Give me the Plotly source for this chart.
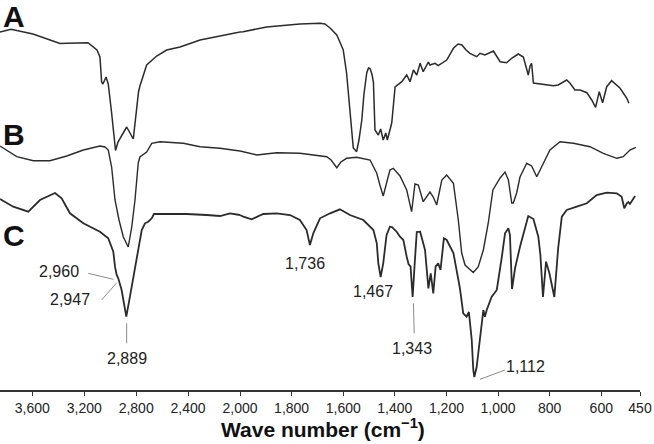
import plotly.graph_objects as go

# ---------------- data (wavenumber in cm-1, transmittance in arbitrary units, offset per spectrum) -------------
wn_A = [3849, 3764, 3595, 3387, 3333, 3171, 3102, 3079, 3066, 3056, 3032, 3015, 2989, 2959, 2940, 2873,
        2822, 2796, 2782, 2771, 2719, 2642, 2565, 2462, 2308, 2154, 2054, 2000,
        1988, 1897, 1858, 1768, 1690, 1671, 1651, 1625, 1613, 1600, 1587, 1574, 1561, 1548, 1539, 1528,
        1520, 1509, 1502, 1496, 1489, 1483, 1477, 1464, 1455, 1445, 1435, 1429, 1412, 1399, 1373, 1354,
        1341, 1328, 1315, 1302, 1290, 1270, 1264, 1244, 1232, 1199, 1173, 1155, 1140, 1124, 1109, 1083,
        1070, 1051, 1018, 992, 967, 946, 922, 902, 889, 883, 876, 870, 863, 837, 786, 767, 747, 734, 721,
        702, 682, 656, 637, 622, 608, 595, 579, 560, 527, 501, 493]
t_A = [358, 360.7, 356, 346.5, 346.7, 347.3, 340, 333, 308, 306, 313, 306, 277, 239.5, 248, 263,
       251, 283, 298, 304, 325, 334, 340, 343, 350, 354, 357, 358,
       358.3, 363, 364, 366, 366.7, 366, 362, 355, 348, 340, 317, 277, 242, 238.3, 250, 270,
       295, 317, 322, 321.5, 316, 308, 260, 255, 261, 250, 257, 250, 267, 303, 308.3, 315,
       308.3, 320, 315, 326.7, 318.3, 328, 325, 326.7, 324.3, 330, 341.7, 346, 345, 340, 336.7, 333.3,
       336.7, 335, 339, 328.3, 327.3, 332, 336, 333, 320, 315, 324, 326.7, 307, 306, 304.3, 305, 308.3, 310, 306.7,
       300, 300, 297.3, 290, 282.7, 298.3, 287.3, 303.3, 309.3, 301.7, 291.7, 286.7]

wn_B = [3849, 3720, 3592, 3464, 3335, 3207, 3079, 3040, 3015, 2989, 2963, 2932, 2899, 2861, 2834, 2809,
        2784, 2771, 2719, 2680, 2616, 2437, 2308, 2154, 2000,
        1935, 1858, 1768, 1664, 1647, 1625, 1609, 1587, 1548, 1496, 1470, 1458, 1445, 1434, 1419, 1406,
        1380, 1354, 1335, 1322, 1309, 1290, 1264, 1251, 1238, 1218, 1199, 1173, 1154, 1141, 1128, 1096,
        1077, 1057, 1038, 1020, 992, 973, 960, 947, 941, 928, 915, 889, 870, 850, 831, 799, 760, 708,
        644, 592, 540, 515, 489, 466]
t_B = [244, 233.3, 229.3, 229.3, 234, 240, 244, 243, 240, 223, 190, 170, 153, 143, 163, 190,
       227, 233, 238, 246.7, 248.3, 246.7, 243.3, 241.7, 239,
       235, 237.3, 236.7, 233.3, 230, 222.3, 228, 231.7, 232.7, 230, 216.7, 205, 194, 205, 220, 221.7,
       214, 200, 178.3, 206, 205, 188.3, 198, 193, 185, 210, 215, 206.7, 170, 137, 125, 117.5,
       123, 140, 167, 200, 212, 218, 210, 187, 187, 197, 213, 226.7, 224, 213.3, 223.3, 240, 248.3, 246.7,
       243.3, 236.7, 231.7, 233.3, 240, 242.7]

wn_C = [3849, 3747, 3631, 3541, 3425, 3374, 3310, 3207, 3079, 3015, 2976, 2963, 2950, 2938, 2912, 2876,
        2848, 2822, 2784, 2757, 2732, 2707, 2680, 2663, 2565, 2411, 2257, 2154, 2077, 2000,
        1987, 1955, 1910, 1858, 1806, 1768, 1742, 1729, 1716, 1690, 1651, 1613, 1574, 1522, 1496, 1483,
        1470, 1464, 1455, 1445, 1432, 1419, 1411, 1393, 1380, 1367, 1354, 1347, 1339, 1331, 1323, 1315,
        1302, 1296, 1283, 1270, 1261, 1251, 1242, 1232, 1223, 1210, 1199, 1173, 1148, 1135, 1122, 1113,
        1102, 1096, 1092, 1083, 1063, 1057, 1051, 1044, 1025, 1005, 986, 973, 960, 954, 946, 934, 915,
        883, 863, 844, 836, 826, 814, 801, 782, 767, 753, 734, 695, 656, 618, 579, 540, 521, 511, 501,
        495, 489, 469]
t_C = [191, 183.3, 178.3, 190, 197, 191.7, 176.7, 166.7, 158.3, 151.7, 138.3, 123.3, 115, 111.7, 100, 73.3,
       93.3, 113.3, 140, 160, 166.7, 168.3, 171.7, 176, 176, 176, 175, 174, 176.7, 175,
       173.3, 170.7, 176, 176.7, 175, 170, 160, 145, 156.7, 171.7, 176.7, 180.7, 175, 170, 163.3, 160,
       146.7, 126.7, 113, 126.7, 155, 163.3, 163, 158.3, 153.3, 150, 133.3, 126, 123.3, 93, 126.7, 158,
       158.3, 153.3, 140, 101.7, 116.7, 96.7, 123.3, 126.7, 120, 151.7, 150, 137, 102, 76.7, 73.3, 78,
       50, 20, 13, 23, 63, 80, 73.3, 80, 93, 100, 132, 156.7, 161.7, 155, 101, 122, 143.3,
       174, 171, 153.3, 135, 93, 128.3, 116.7, 93, 142, 173.3, 180, 183.3, 186.7, 195, 197.3, 196.7, 193.3, 181.7, 186.7,
       188, 186, 194]

series_names = ["A", "B", "C"]

ticks_left = [3600, 3200, 2800, 2400]
ticks_right = [2000, 1800, 1600, 1400, 1200, 1000, 800, 600, 450]
tick_fmt = lambda v: f"{v:,}"

# peak labels: (text, wavenumber, transmittance)
peak_labels = [("2,960", 3394, 119), ("2,947", 3310, 91), ("2,889", 2871, 31.5),
               ("1,736", 1748, 126.5), ("1,467", 1485, 98.5), ("1,343", 1335, 41.7),
               ("1,112", 892, 23.3)]
# leader lines: (wn0, t0, wn1, t1)
leaders = [(3169, 116.7, 2976, 110.7), (3066, 90, 2950, 107.3), (2873, 66.7, 2873, 46.7),
           (1328, 86.7, 1325, 56.7), (1070, 10.7, 973, 20)]
# series letters: (text, transmittance level)
letters = [("A", 374), ("B", 256), ("C", 155)]

BREAK = 2000
FONT = "Liberation Sans, Arial, sans-serif"
LINE = "#2b2b2b"

fig = go.Figure()
for name, wn, t, w in [("A", wn_A, t_A, 1.5), ("B", wn_B, t_B, 1.4), ("C", wn_C, t_C, 1.8)]:
    lx = [a for a in wn if a >= BREAK]
    ly = [b for a, b in zip(wn, t) if a >= BREAK]
    rx = [a for a in wn if a <= BREAK]
    ry = [b for a, b in zip(wn, t) if a <= BREAK]
    fig.add_trace(go.Scatter(x=lx, y=ly, mode="lines", line=dict(color=LINE, width=w),
                             xaxis="x", yaxis="y", name=name, hoverinfo="skip"))
    fig.add_trace(go.Scatter(x=rx, y=ry, mode="lines", line=dict(color=LINE, width=w),
                             xaxis="x2", yaxis="y", name=name, hoverinfo="skip"))

annotations = []
for txt, w, t in peak_labels:
    xr = "x" if w >= BREAK else "x2"
    annotations.append(dict(text=txt, x=w, y=t, xref=xr, yref="y", showarrow=False,
                            font=dict(family=FONT, size=16, color="#222"),
                            xanchor="center", yanchor="middle"))
for txt, t in letters:
    annotations.append(dict(text=f"<b>{txt}</b>", x=0.0, y=t, xref="paper", yref="y", showarrow=False,
                            font=dict(family=FONT, size=30, color="#111"),
                            xanchor="left", yanchor="middle", xshift=1))
annotations.append(dict(text="<b>Wave number (cm<sup>\u22121</sup>)</b>", x=0.505, y=-0.097,
                        xref="paper", yref="paper", showarrow=False,
                        font=dict(family=FONT, size=21, color="#111"),
                        xanchor="center", yanchor="middle"))

shapes = []
for w0, t0, w1, t1 in leaders:
    xr = "x" if w0 >= BREAK else "x2"
    shapes.append(dict(type="line", x0=w0, y0=t0, x1=w1, y1=t1, xref=xr, yref="y",
                       line=dict(color="#8a8a8a", width=1)))

axis_common = dict(showline=True, linecolor="#333", linewidth=1.5, ticks="outside", ticklen=4,
                   tickcolor="#333", tickwidth=1, showgrid=False, zeroline=False, automargin=False,
                   tickfont=dict(family=FONT, size=14, color="#222"), anchor="y", fixedrange=True)

fig.update_layout(
    template="none",
    width=654, height=444,
    margin=dict(l=0, r=14, t=0, b=54, pad=0, autoexpand=False),
    paper_bgcolor="white", plot_bgcolor="white",
    showlegend=False,
    xaxis=dict(domain=[0, 0.375], range=[3849, BREAK], tickmode="array",
               tickvals=ticks_left, ticktext=[tick_fmt(v) for v in ticks_left], **axis_common),
    xaxis2=dict(domain=[0.375, 1], range=[BREAK, 450], tickmode="array",
                tickvals=ticks_right, ticktext=[tick_fmt(v) for v in ticks_right], **axis_common),
    yaxis=dict(range=[0, 390], visible=False, fixedrange=True, automargin=False),
    annotations=annotations,
    shapes=shapes,
)

fig.write_html("out.html", config={"displayModeBar": False},
               post_script="document.body.style.margin='0';document.body.style.padding='0';")
